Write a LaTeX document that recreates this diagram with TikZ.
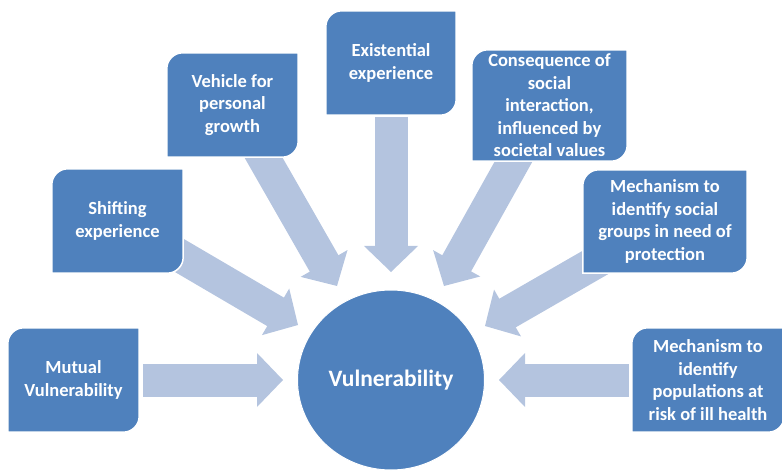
\documentclass[tikz,border=0pt]{standalone}
\usepackage{fontspec}
\setmainfont{Carlito}
\usetikzlibrary{calc,shapes.geometric}
\definecolor{boxc}{HTML}{4F81BD}
\definecolor{arrowc}{HTML}{B4C4DF}
\pgfdeclarelayer{arrows}
\pgfdeclarelayer{boxes}
\pgfsetlayers{arrows,boxes,main}
\newcommand{\diagbox}[1]{%
  \fill[boxc, draw=white, line width=1.5pt] (#1.south west) -- ([yshift=-16pt]#1.north west)
    arc[start angle=180,end angle=90,radius=16pt] -- (#1.north east)
    -- ([yshift=16pt]#1.south east) arc[start angle=0,end angle=-90,radius=16pt] -- cycle;}
\newcommand{\blockarr}[2]{%
  \coordinate (ab) at ($(#2)!26pt!(#1)$);
  \coordinate (ac) at ($(#2)!25pt!(#1)$);
  \draw[arrowc, line width=33pt] (#1) -- (ac);
  \fill[arrowc] ($(ab)!27pt!90:(#2)$) -- (#2) -- ($(ab)!27pt!-90:(#2)$) -- cycle;}
\begin{document}
\begin{tikzpicture}[x=1pt,y=1pt,
  box/.style={inner sep=0pt, text=white, align=center,
    font=\bfseries\fontsize{18.5}{22.5}\selectfont},
  hub/.style={ellipse, fill=boxc, draw=white, line width=1pt, inner sep=0pt,
    minimum width=187pt, minimum height=180pt, text=white,
    font=\bfseries\fontsize{23.5}{28}\selectfont}]
\useasboundingbox (0,0) rectangle (782,472);
\clip (0,0) rectangle (782,472);
% boxes (text nodes)
\node[box, minimum width=131pt, minimum height=104pt] (b1) at (73.5,92) {Mutual\\Vulnerability};
\node[box, minimum width=131pt, minimum height=104pt] (b2) at (117.5,251) {Shifting\\experience};
\node[box, minimum width=131pt, minimum height=104pt] (b3) at (232.5,367) {Vehicle for\\personal\\growth};
\node[box, minimum width=130pt, minimum height=104pt] (b4) at (391,409) {Existential\\experience};
\node[box, minimum width=155pt, minimum height=111pt] (b5) at (549.5,366.5) {Consequence of\\social\\interaction,\\influenced by\\societal values};
\node[box, minimum width=164pt, minimum height=103pt] (b6) at (665,250.5) {Mechanism to\\identify social\\groups in need of\\protection};
\node[box, minimum width=152pt, minimum height=104pt] (b7) at (708,92) {Mechanism to\\identify\\populations at\\risk of ill health};
% hub
\node[hub] (v) at (391,92) {Vulnerability};
% arrow end points
\coordinate (t1) at (143,92);   \coordinate (h1) at (283,92);
\coordinate (t2) at (170,222);  \coordinate (h2) at (298,147);
\coordinate (t3) at (258,324);  \coordinate (h3) at (337,186);
\coordinate (t4) at (391,355);  \coordinate (h4) at (391,200);
\coordinate (t5) at (520,322);  \coordinate (h5) at (444,186);
\coordinate (t6) at (604,214.5);\coordinate (h6) at (485,146);
\coordinate (t7) at (629,92);   \coordinate (h7) at (499,92);
\begin{pgfonlayer}{arrows}
  \blockarr{t1}{h1}
  \blockarr{t2}{h2}
  \blockarr{t3}{h3}
  \blockarr{t4}{h4}
  \blockarr{t5}{h5}
  \blockarr{t6}{h6}
  \blockarr{t7}{h7}
\end{pgfonlayer}
\begin{pgfonlayer}{boxes}
  \diagbox{b1}\diagbox{b2}\diagbox{b3}\diagbox{b4}\diagbox{b5}\diagbox{b6}\diagbox{b7}
\end{pgfonlayer}
\end{tikzpicture}
\end{document}
